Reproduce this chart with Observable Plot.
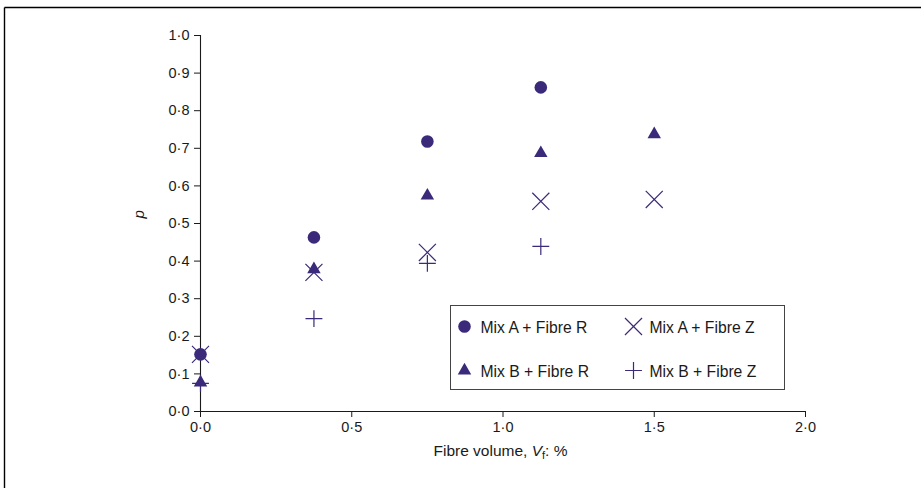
<!DOCTYPE html>
<html><head><meta charset="utf-8">
<script src="https://cdn.jsdelivr.net/npm/d3@7"></script>
<script src="https://cdn.jsdelivr.net/npm/@observablehq/plot@0.6"></script>
<style>
body{margin:0;background:#fff;} svg{display:block}
</style>
</head><body><div id="chart"></div>
<script>
// ---- data ----
const fibreVolume = [0, 0.375, 0.75, 1.125, 1.5];
const seriesNames = ["Mix A + Fibre R", "Mix A + Fibre Z", "Mix B + Fibre R", "Mix B + Fibre Z"];
const mixAFibreR = [0.152, 0.463, 0.718, 0.862, null];
const mixAFibreZ = [0.152, 0.370, 0.423, 0.559, 0.564];
const mixBFibreR = [0.077, 0.378, 0.574, 0.687, 0.737];
const mixBFibreZ = [0.075, 0.247, 0.394, 0.439, null];
const xTicks = [0, 0.5, 1.0, 1.5, 2.0];
const yTicks = [0, 0.1, 0.2, 0.3, 0.4, 0.5, 0.6, 0.7, 0.8, 0.9, 1.0];
const xLabelParts = ["Fibre volume, ", "V", "f", ": %"];
const yLabel = "p";

// ---- styles ----
const ink = "#3b2a7a";
const fmt = d => d.toFixed(1).replace(".", "\u00b7");
const styles = {
  "Mix A + Fibre R": {symbol: "circle", r: 6.3, fill: ink, stroke: "none", strokeWidth: 0},
  "Mix A + Fibre Z": {symbol: "times", r: 7.8, fill: "none", stroke: ink, strokeWidth: 1.2},
  "Mix B + Fibre R": {symbol: "triangle", r: 5.0, fill: ink, stroke: "none", strokeWidth: 0},
  "Mix B + Fibre Z": {symbol: "plus", r: 5.5, fill: "none", stroke: ink, strokeWidth: 1.2}
};
const seriesValues = {
  "Mix A + Fibre R": mixAFibreR,
  "Mix A + Fibre Z": mixAFibreZ,
  "Mix B + Fibre R": mixBFibreR,
  "Mix B + Fibre Z": mixBFibreZ
};
function rows(name) {
  return fibreVolume.map((x, i) => ({x, y: seriesValues[name][i], name})).filter(d => d.y != null);
}
const drawOrder = ["Mix B + Fibre Z", "Mix A + Fibre Z", "Mix B + Fibre R", "Mix A + Fibre R"];

const font = "'Liberation Sans', Arial, Helvetica, sans-serif";
const plot = Plot.plot({
  width: 921, height: 488,
  marginLeft: 200, marginRight: 116, marginTop: 35, marginBottom: 77,
  x: {domain: [0, 2]},
  y: {domain: [0, 1]},
  style: {fontFamily: font, fontSize: "14.5px", color: "#1a1a1a", background: "white", overflow: "visible"},
  marks: [
    Plot.axisX({ticks: xTicks, tickFormat: fmt, tickSize: 6, tickPadding: 4, label: null, fontSize: 14.5}),
    Plot.axisY({ticks: yTicks, tickFormat: fmt, tickSize: 6, tickPadding: 5, label: null, fontSize: 14.5}),
    Plot.ruleX([0], {stroke: "#1a1a1a", strokeWidth: 1.1}),
    Plot.ruleY([0], {stroke: "#1a1a1a", strokeWidth: 1.1}),
    Plot.text([yLabel], {text: d => d, frameAnchor: "left", dx: -61, dy: -5, rotate: -90, fontStyle: "italic", fontSize: 15}),
    ...drawOrder.map(name => Plot.dot(rows(name), {x: "x", y: "y", ...styles[name]}))
  ]
});
document.getElementById("chart").appendChild(plot);

const svg = d3.select(plot);
// outer frame (top and left rules)
svg.append("line").attr("x1", 4.5).attr("x2", 921).attr("y1", 7.5).attr("y2", 7.5).attr("stroke", "#000").attr("stroke-width", 1.4);
svg.append("line").attr("x1", 4.5).attr("x2", 4.5).attr("y1", 7.5).attr("y2", 488).attr("stroke", "#000").attr("stroke-width", 1.4);

// x axis title with italic V and subscript f
const xs = plot.scale("x");
const xt = svg.append("text").attr("x", (xs.range[0] + xs.range[1]) / 2 - 2).attr("y", 456)
  .attr("text-anchor", "middle").attr("font-family", font).attr("font-size", 15.5).attr("fill", "#1a1a1a");
xt.append("tspan").text(xLabelParts[0]);
xt.append("tspan").attr("font-style", "italic").text(xLabelParts[1]);
xt.append("tspan").attr("font-size", 11).attr("dy", 3).text(xLabelParts[2]);
xt.append("tspan").attr("dy", -3).text(xLabelParts[3]);

// legend box
const lg = svg.append("g").attr("transform", "translate(450.5,305.5)");
lg.append("rect").attr("width", 334).attr("height", 84).attr("fill", "white").attr("stroke", "#444").attr("stroke-width", 1);
const symMap = {circle: d3.symbolCircle, times: d3.symbolTimes, triangle: d3.symbolTriangle, plus: d3.symbolPlus};
const slots = [[14, 21], [183, 21], [14, 65], [183, 65]];
seriesNames.forEach((name, i) => {
  const s = styles[name];
  const [sx, sy] = slots[i];
  lg.append("path").attr("transform", `translate(${sx},${sy})`)
    .attr("d", d3.symbol(symMap[s.symbol], Math.PI * s.r * s.r)())
    .attr("fill", s.fill).attr("stroke", s.stroke).attr("stroke-width", s.strokeWidth);
  lg.append("text").attr("x", sx + 16).attr("y", sy + 6).attr("text-anchor", "start")
    .attr("font-family", font).attr("font-size", 15.7).attr("fill", "#1a1a1a").text(name);
});
</script></body></html>
